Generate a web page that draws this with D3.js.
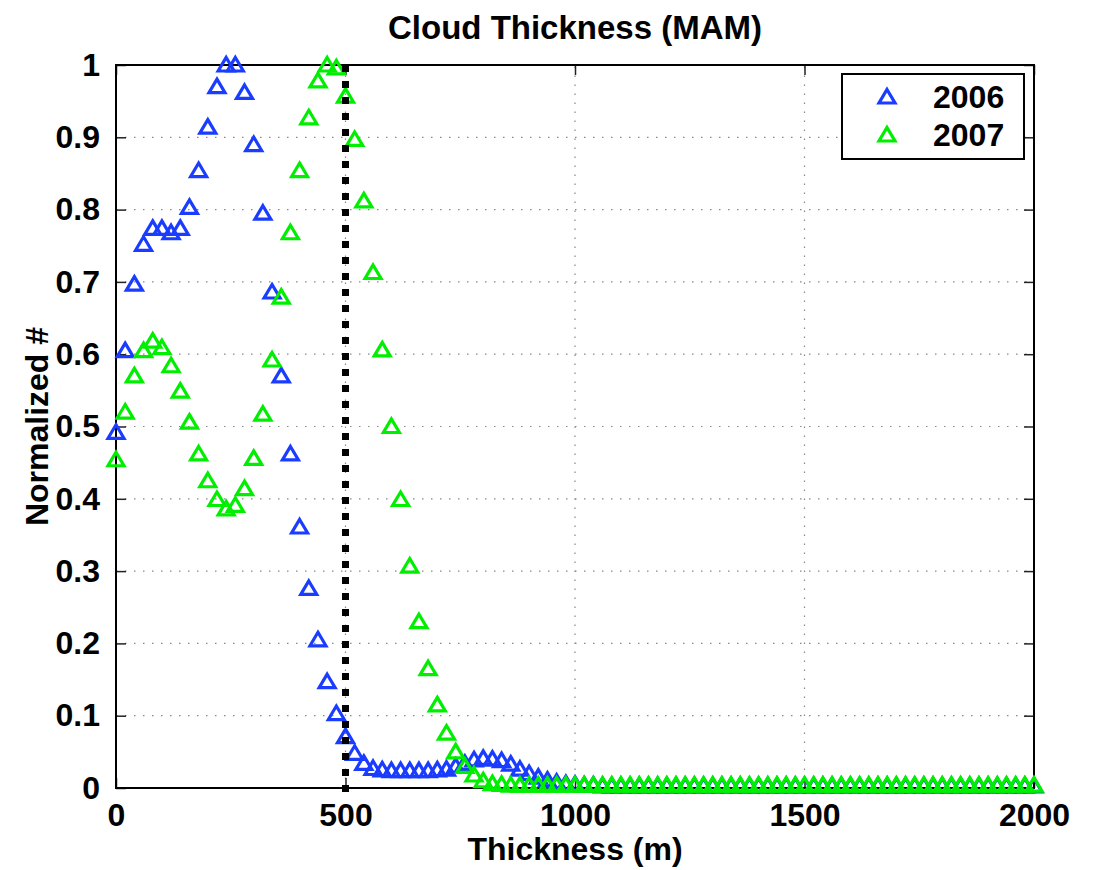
<!DOCTYPE html>
<html>
<head>
<meta charset="utf-8">
<script src="https://cdn.jsdelivr.net/npm/d3@7"></script>
<style>
  body { margin: 0; background: #fff; }
  svg { display: block; font-family: "Liberation Sans", Arial, Helvetica, sans-serif; font-weight: bold; }
</style>
</head>
<body>
<svg id="chart"></svg>
<script>
// thickness bins (m), every 20 m from 0 to 2000
const thickness = [
  0, 20, 40, 60, 80, 100, 120, 140, 160, 180,
  200, 220, 240, 260, 280, 300, 320, 340, 360, 380,
  400, 420, 440, 460, 480, 500, 520, 540, 560, 580,
  600, 620, 640, 660, 680, 700, 720, 740, 760, 780,
  800, 820, 840, 860, 880, 900, 920, 940, 960, 980,
  1000, 1020, 1040, 1060, 1080, 1100, 1120, 1140, 1160, 1180,
  1200, 1220, 1240, 1260, 1280, 1300, 1320, 1340, 1360, 1380,
  1400, 1420, 1440, 1460, 1480, 1500, 1520, 1540, 1560, 1580,
  1600, 1620, 1640, 1660, 1680, 1700, 1720, 1740, 1760, 1780,
  1800, 1820, 1840, 1860, 1880, 1900, 1920, 1940, 1960, 1980,
  2000
];

const mam2006 = [
  0.492, 0.605, 0.697, 0.752, 0.774, 0.774, 0.768, 0.774, 0.803, 0.854,
  0.914, 0.970, 1.000, 1.000, 0.962, 0.890, 0.795, 0.686, 0.570, 0.462,
  0.361, 0.276, 0.205, 0.147, 0.103, 0.071, 0.048, 0.034, 0.027, 0.025,
  0.024, 0.024, 0.024, 0.024, 0.024, 0.025, 0.026, 0.030, 0.034, 0.039,
  0.041, 0.040, 0.038, 0.033, 0.026, 0.020, 0.015, 0.011, 0.008, 0.006,
  0.005, 0.004, 0.004, 0.003, 0.003, 0.003, 0.003, 0.003, 0.003, 0.003,
  0.003, 0.003, 0.003, 0.003, 0.003, 0.003, 0.003, 0.003, 0.003, 0.003,
  0.003, 0.003, 0.003, 0.003, 0.003, 0.003, 0.003, 0.003, 0.003, 0.003,
  0.003, 0.003, 0.003, 0.003, 0.003, 0.003, 0.003, 0.003, 0.003, 0.003,
  0.003, 0.003, 0.003, 0.003, 0.003, 0.003, 0.003, 0.003, 0.003, 0.003,
  0.003
];

const mam2007 = [
  0.454, 0.520, 0.570, 0.605, 0.618, 0.609, 0.584, 0.549, 0.506, 0.462,
  0.425, 0.399, 0.386, 0.391, 0.414, 0.456, 0.517, 0.592, 0.679, 0.768,
  0.854, 0.927, 0.978, 1.000, 0.996, 0.957, 0.897, 0.812, 0.713, 0.606,
  0.500, 0.399, 0.307, 0.230, 0.165, 0.115, 0.076, 0.050, 0.030, 0.018,
  0.010, 0.006, 0.005, 0.004, 0.004, 0.004, 0.004, 0.004, 0.004, 0.004,
  0.004, 0.004, 0.004, 0.004, 0.004, 0.004, 0.004, 0.004, 0.004, 0.004,
  0.004, 0.004, 0.004, 0.004, 0.004, 0.004, 0.004, 0.004, 0.004, 0.004,
  0.004, 0.004, 0.004, 0.004, 0.004, 0.004, 0.004, 0.004, 0.004, 0.004,
  0.004, 0.004, 0.004, 0.004, 0.004, 0.004, 0.004, 0.004, 0.004, 0.004,
  0.004, 0.004, 0.004, 0.004, 0.004, 0.004, 0.004, 0.004, 0.004, 0.004,
  0.004
];

const seriesNames = ["2006", "2007"];
const seriesColors = ["#1a3cff", "#00ee00"];
const xTicks = [0, 500, 1000, 1500, 2000];
const yTicks = [0, 0.1, 0.2, 0.3, 0.4, 0.5, 0.6, 0.7, 0.8, 0.9, 1];
const yTickLabels = ["0", "0.1", "0.2", "0.3", "0.4", "0.5", "0.6", "0.7", "0.8", "0.9", "1"];
const cutoff = 500; // dotted vertical marker

const width = 1099;
const height = 870;
const marginTop = 65;
const marginRight = 65;
const marginBottom = 82;
const marginLeft = 116;

const svg = d3.select("#chart")
    .attr("width", width)
    .attr("height", height)
    .attr("viewBox", [0, 0, width, height]);

const x = d3.scaleLinear()
    .domain([0, 2000])
    .range([marginLeft, width - marginRight]);

const y = d3.scaleLinear()
    .domain([0, 1])
    .range([height - marginBottom, marginTop]);

// grid lines (dotted)
const grid = svg.append("g")
    .attr("stroke", "#888")
    .attr("stroke-width", 1.2)
    .attr("stroke-dasharray", "1.5,7.5");
grid.selectAll(".gx")
  .data(xTicks.slice(1, -1))
  .join("line")
    .attr("x1", d => x(d)).attr("x2", d => x(d))
    .attr("y1", y(0)).attr("y2", y(1));
grid.selectAll(".gy")
  .data(yTicks.slice(1, -1))
  .join("line")
    .attr("x1", x(0)).attr("x2", x(2000))
    .attr("y1", d => y(d)).attr("y2", d => y(d));

// axes with inward ticks on all four sides
const axisFont = g => g.selectAll("text")
    .attr("font-size", 32)
    .attr("font-weight", "bold")
    .attr("font-family", "Liberation Sans, Arial, sans-serif")
    .attr("fill", "#000");

svg.append("g")
    .attr("transform", `translate(0,${y(0)})`)
    .call(d3.axisBottom(x).tickValues(xTicks).tickSize(-10).tickPadding(15).tickFormat(d3.format("d")))
    .call(g => g.select(".domain").remove())
    .call(g => g.selectAll(".tick line").attr("stroke", "#222").attr("stroke-width", 1.5))
    .call(axisFont);

svg.append("g")
    .attr("transform", `translate(0,${y(1)})`)
    .call(d3.axisTop(x).tickValues(xTicks).tickSize(-10).tickFormat(""))
    .call(g => g.select(".domain").remove())
    .call(g => g.selectAll(".tick line").attr("stroke", "#222").attr("stroke-width", 1.5));

svg.append("g")
    .attr("transform", `translate(${x(0)},0)`)
    .call(d3.axisLeft(y).tickValues(yTicks).tickSize(-10).tickPadding(16)
      .tickFormat((d, i) => yTickLabels[i]))
    .call(g => g.select(".domain").remove())
    .call(g => g.selectAll(".tick line").attr("stroke", "#222").attr("stroke-width", 1.5))
    .call(axisFont);

svg.append("g")
    .attr("transform", `translate(${x(2000)},0)`)
    .call(d3.axisRight(y).tickValues(yTicks).tickSize(-10).tickFormat(""))
    .call(g => g.select(".domain").remove())
    .call(g => g.selectAll(".tick line").attr("stroke", "#222").attr("stroke-width", 1.5));

// box
svg.append("rect")
    .attr("x", x(0))
    .attr("y", y(1))
    .attr("width", x(2000) - x(0))
    .attr("height", y(0) - y(1))
    .attr("fill", "none")
    .attr("stroke", "#000")
    .attr("stroke-width", 2);

// triangle markers
const tri = "M0,-7.5L8,6L-8,6Z";
const seriesData = [mam2006, mam2007];

seriesData.forEach((vals, k) => {
  svg.append("g")
    .selectAll("path")
    .data(thickness.map((t, i) => [t, vals[i]]))
    .join("path")
      .attr("d", tri)
      .attr("transform", d => `translate(${x(d[0])},${y(d[1])})`)
      .attr("fill", "none")
      .attr("stroke", seriesColors[k])
      .attr("stroke-width", 3.2);
});

// thick dotted line at 500 m
svg.append("line")
    .attr("x1", x(cutoff)).attr("x2", x(cutoff))
    .attr("y1", y(1)).attr("y2", y(0) + 4)
    .attr("stroke", "#000")
    .attr("stroke-width", 7)
    .attr("stroke-dasharray", "7,9");

// legend
const legend = svg.append("g");
legend.append("rect")
    .attr("x", 842).attr("y", 74)
    .attr("width", 182).attr("height", 85)
    .attr("fill", "#fff")
    .attr("stroke", "#000")
    .attr("stroke-width", 2);
seriesNames.forEach((name, k) => {
  const cy = 97 + k * 38;
  legend.append("path")
    .attr("d", tri)
    .attr("transform", `translate(887,${cy})`)
    .attr("fill", "none")
    .attr("stroke", seriesColors[k])
    .attr("stroke-width", 3.2);
  legend.append("text")
    .attr("x", 933)
    .attr("y", cy + 11)
    .attr("font-size", 32)
    .attr("fill", "#000")
    .text(name);
});

// titles
svg.append("text")
    .attr("x", (x(0) + x(2000)) / 2)
    .attr("y", 39)
    .attr("text-anchor", "middle")
    .attr("font-size", 33)
    .text("Cloud Thickness (MAM)");

svg.append("text")
    .attr("x", (x(0) + x(2000)) / 2)
    .attr("y", 860)
    .attr("text-anchor", "middle")
    .attr("font-size", 32)
    .text("Thickness (m)");

svg.append("text")
    .attr("transform", `translate(48,${(y(0) + y(1)) / 2}) rotate(-90)`)
    .attr("text-anchor", "middle")
    .attr("font-size", 32)
    .text("Normalized #");
</script>
</body>
</html>
